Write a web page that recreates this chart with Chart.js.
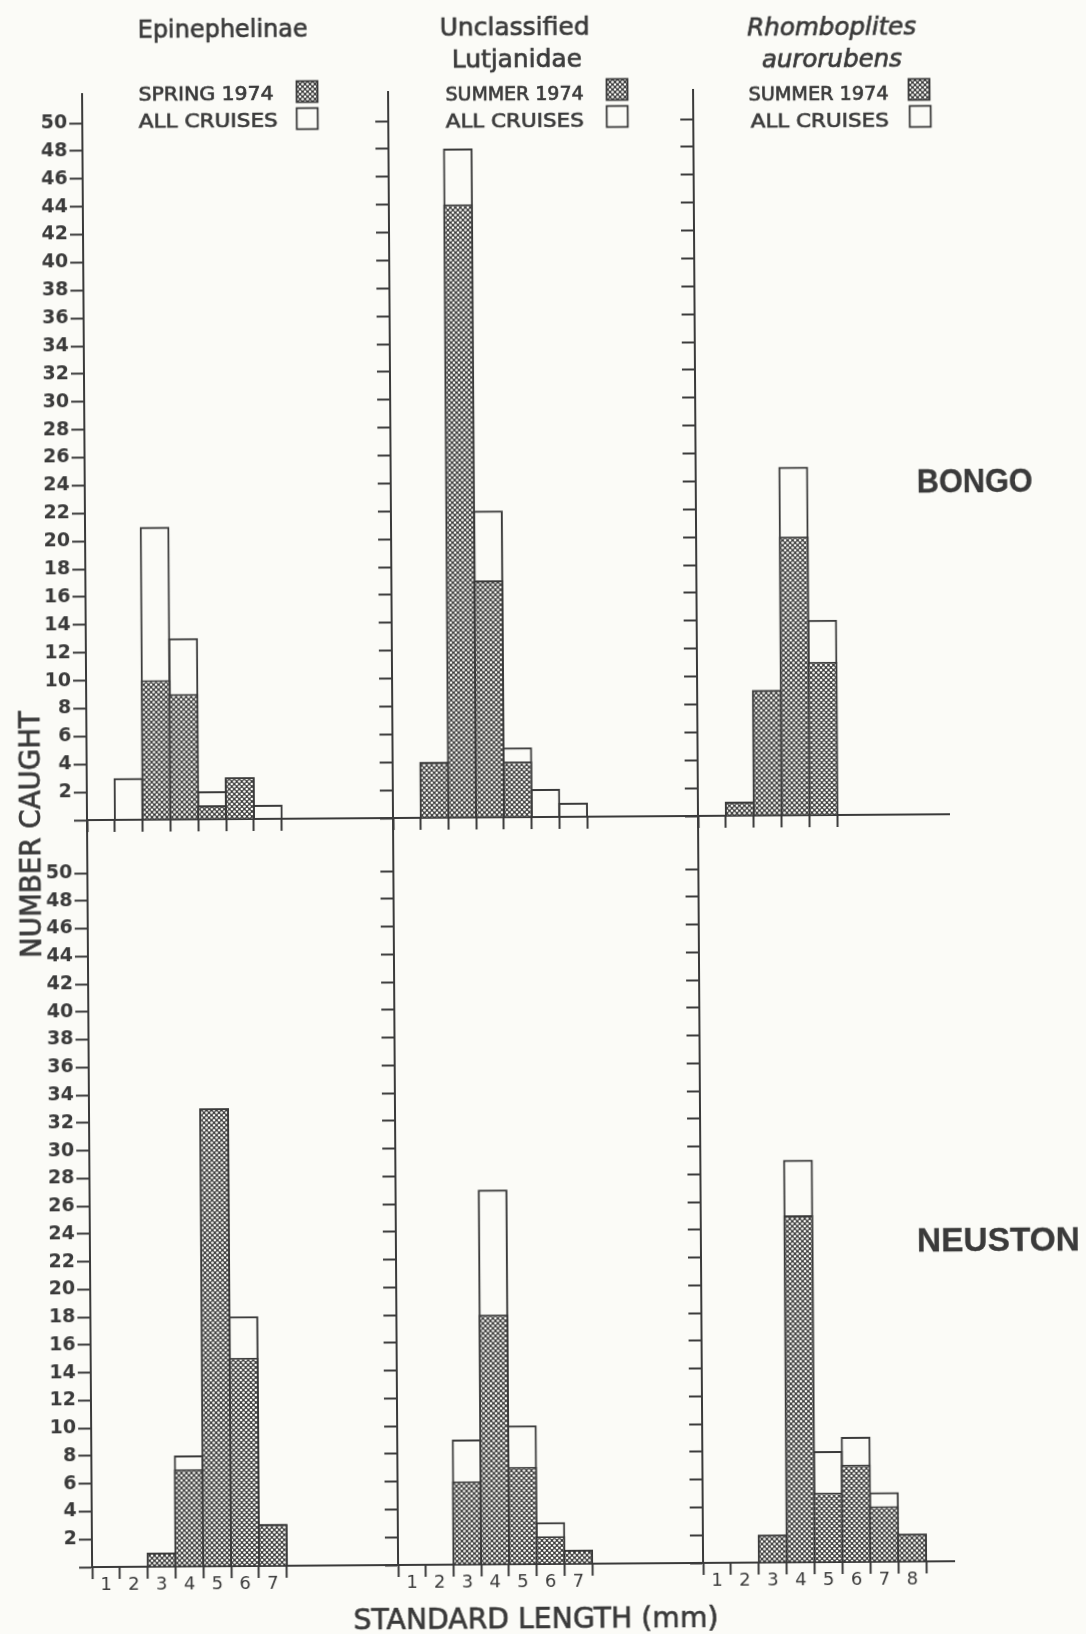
<!DOCTYPE html>
<html>
<head>
<meta charset="utf-8">
<script src="https://cdn.jsdelivr.net/npm/chart.js@4/dist/chart.umd.min.js"></script>
<style>
  html, body { margin: 0; padding: 0; background: #fbfbf7; overflow: hidden; }
  #fig {
    position: relative; width: 1086px; height: 1634px; background: #fbfbf7;
    transform: rotate(-0.39deg); transform-origin: 543px 817px;
  }
  #fig canvas { position: absolute; }
  #fig svg { position: absolute; left: 0; top: 0; }
</style>
</head>
<body>
<div id="fig"></div>
<script>
// ---- counts per standard-length class (mm) ----
// Bongo nets
const epiBongoLengths = ['1', '2', '3', '4', '5', '6', '7'];
const epiBongoSpring  = [0, 0, 10, 9, 1, 3, 0];
const epiBongoAll     = [0, 3, 21, 13, 2, 3, 1];

const lutBongoLengths = ['1', '2', '3', '4', '5', '6', '7'];
const lutBongoSummer  = [0, 4, 44, 17, 4, 0, 0];
const lutBongoAll     = [0, 4, 48, 22, 5, 2, 1];

const rhoBongoLengths = ['1', '2', '3', '4', '5'];
const rhoBongoSummer  = [0, 1, 9, 20, 11];
const rhoBongoAll     = [0, 1, 9, 25, 14];

// Neuston nets
const epiNeustonLengths = ['1', '2', '3', '4', '5', '6', '7'];
const epiNeustonSpring  = [0, 0, 1, 7, 33, 15, 3];
const epiNeustonAll     = [0, 0, 1, 8, 33, 18, 3];

const lutNeustonLengths = ['1', '2', '3', '4', '5', '6', '7'];
const lutNeustonSummer  = [0, 0, 6, 18, 7, 2, 1];
const lutNeustonAll     = [0, 0, 9, 27, 10, 3, 1];

const rhoNeustonLengths = ['1', '2', '3', '4', '5', '6', '7', '8'];
const rhoNeustonSummer  = [0, 0, 2, 25, 5, 7, 4, 2];
const rhoNeustonAll     = [0, 0, 2, 29, 8, 9, 5, 2];

// y-axis tick values (number caught)
const countTicks = [2, 4, 6, 8, 10, 12, 14, 16, 18, 20, 22, 24, 26, 28, 30,
                    32, 34, 36, 38, 40, 42, 44, 46, 48, 50];

// ---- look ----
const ink = '#3a3a3a';
const paper = '#fbfbf7';
const fig = document.getElementById('fig');

function hatchPattern(ctx) {
  const t = document.createElement('canvas');
  t.width = 10; t.height = 10;
  const g = t.getContext('2d');
  g.fillStyle = ink;
  g.fillRect(0, 0, 10, 10);
  g.fillStyle = paper;
  const dots = [[0,0],[5,0],[10,0],[2.5,2.5],[7.5,2.5],[0,5],[5,5],[10,5],
                [2.5,7.5],[7.5,7.5],[0,10],[5,10],[10,10]];
  for (const [x, y] of dots) {
    g.beginPath(); g.arc(x, y, 1.35, 0, Math.PI * 2); g.fill();
  }
  return ctx.createPattern(t, 'repeat');
}

// geometry of the two rows and three columns
const colAxisX = [87, 393, 698];
const colRight = [393, 698, 949];
const topRow = { baseY: 817, topY: 91, unit: 13.94 };
const botRow = { baseY: 1564, topY: 817, unit: 13.88 };
const binWidth = 27.8;
const lineW = 2;

function makePanel(col, row, lengths, season, all, showX) {
  const axisX = colAxisX[col];
  const areaW = colRight[col] - axisX;
  const areaH = row.baseY - row.topY;
  const yMax = areaH / row.unit;
  const showY = col === 0;
  const yAxisW = showY ? 80 : 16;
  const xAxisH = showX ? 44 : 14;
  const padT = 14, padR = 4;

  const cv = document.createElement('canvas');
  cv.width = yAxisW + areaW + padR;
  cv.height = padT + areaH + xAxisH;
  cv.style.left = (axisX - yAxisW) + 'px';
  cv.style.top = (row.topY - padT) + 'px';
  fig.appendChild(cv);
  const ctx = cv.getContext('2d');

  const nCat = Math.round(areaW / binWidth);
  const cats = lengths.concat(Array(Math.max(0, nCat - lengths.length)).fill(''));
  const nEdges = lengths.length;
  const overlap = (areaW / nCat + lineW) / (areaW / nCat);

  const barBase = {
    borderColor: ink,
    borderWidth: lineW,
    borderSkipped: 'start',
    barPercentage: overlap,
    categoryPercentage: 1,
    grouped: false
  };

  new Chart(ctx, {
    type: 'bar',
    data: {
      labels: cats,
      datasets: [
        Object.assign({ data: season.map(v => v || null), backgroundColor: hatchPattern(ctx), order: 1 }, barBase),
        Object.assign({ data: all.map(v => v || null), backgroundColor: 'rgba(0,0,0,0)', order: 2 }, barBase)
      ]
    },
    options: {
      responsive: false,
      animation: false,
      devicePixelRatio: 1,
      layout: { padding: { top: padT, right: padR, left: 0, bottom: 0 }, autoPadding: false },
      plugins: { legend: { display: false }, tooltip: { enabled: false } },
      scales: {
        x: {
          type: 'category',
          offset: true,
          afterFit: s => { s.height = xAxisH; },
          border: { display: true, color: ink, width: lineW },
          grid: {
            offset: true,
            drawOnChartArea: false,
            drawTicks: true,
            tickLength: 12,
            tickWidth: lineW,
            tickColor: c => (c.index !== undefined && c.index <= nEdges) ? ink : 'rgba(0,0,0,0)'
          },
          ticks: {
            display: showX,
            autoSkip: false,
            maxRotation: 0,
            padding: -4,
            color: ink,
            font: { family: 'DejaVu Sans', size: 18 }
          }
        },
        y: {
          min: 0,
          max: yMax,
          afterBuildTicks: s => { s.ticks = [0].concat(countTicks).map(v => ({ value: v })); },
          afterFit: s => { s.width = yAxisW; },
          border: { display: true, color: ink, width: lineW },
          grid: {
            drawOnChartArea: false,
            drawTicks: true,
            tickLength: 13,
            tickWidth: lineW,
            tickColor: ink
          },
          ticks: {
            display: showY,
            padding: 2,
            color: ink,
            font: { family: 'DejaVu Sans', size: 19, weight: 'bold' },
            callback: v => (v === 0 ? '' : String(v))
          }
        }
      }
    }
  });
}

makePanel(0, topRow, epiBongoLengths, epiBongoSpring, epiBongoAll, false);
makePanel(1, topRow, lutBongoLengths, lutBongoSummer, lutBongoAll, false);
makePanel(2, topRow, rhoBongoLengths, rhoBongoSummer, rhoBongoAll, false);
makePanel(0, botRow, epiNeustonLengths, epiNeustonSpring, epiNeustonAll, true);
makePanel(1, botRow, lutNeustonLengths, lutNeustonSummer, lutNeustonAll, true);
makePanel(2, botRow, rhoNeustonLengths, rhoNeustonSummer, rhoNeustonAll, true);

// ---- titles, keys and axis captions ----
const NS = 'http://www.w3.org/2000/svg';
const svg = document.createElementNS(NS, 'svg');
svg.setAttribute('width', 1086);
svg.setAttribute('height', 1634);
fig.appendChild(svg);

const defs = document.createElementNS(NS, 'defs');
defs.innerHTML =
  '<pattern id="cross" width="5" height="5" patternUnits="userSpaceOnUse">' +
  '<rect width="5" height="5" fill="' + ink + '"/>' +
  '<circle cx="0" cy="0" r="1.35" fill="' + paper + '"/><circle cx="5" cy="0" r="1.35" fill="' + paper + '"/>' +
  '<circle cx="0" cy="5" r="1.35" fill="' + paper + '"/><circle cx="5" cy="5" r="1.35" fill="' + paper + '"/>' +
  '<circle cx="2.5" cy="2.5" r="1.35" fill="' + paper + '"/></pattern>';
svg.appendChild(defs);

function text(str, x, y, size, opts = {}) {
  const t = document.createElementNS(NS, 'text');
  t.textContent = str;
  t.setAttribute('x', x);
  t.setAttribute('y', y);
  t.setAttribute('font-family', opts.family || 'DejaVu Sans');
  t.setAttribute('font-size', size);
  t.setAttribute('fill', ink);
  t.setAttribute('stroke', ink);
  t.setAttribute('stroke-width', opts.stroke !== undefined ? opts.stroke : 0.7);
  if (opts.anchor) t.setAttribute('text-anchor', opts.anchor);
  if (opts.italic) t.setAttribute('font-style', 'italic');
  if (opts.bold) t.setAttribute('font-weight', 'bold');
  if (opts.len) { t.setAttribute('textLength', opts.len); t.setAttribute('lengthAdjust', 'spacingAndGlyphs'); }
  if (opts.transform) t.setAttribute('transform', opts.transform);
  svg.appendChild(t);
  return t;
}

function box(x, y, w, h, hatched) {
  const r = document.createElementNS(NS, 'rect');
  r.setAttribute('x', x); r.setAttribute('y', y);
  r.setAttribute('width', w); r.setAttribute('height', h);
  r.setAttribute('fill', hatched ? 'url(#cross)' : 'none');
  r.setAttribute('stroke', ink);
  r.setAttribute('stroke-width', 1.8);
  svg.appendChild(r);
}

// column headings
text('Epinephelinae', 228, 35, 24, { anchor: 'middle', len: 170 });
text('Unclassified', 520, 35, 24, { anchor: 'middle', len: 150 });
text('Lutjanidae', 522, 67, 24, { anchor: 'middle', len: 130 });
text('Rhomboplites', 837, 37, 24, { anchor: 'middle', italic: true, len: 169 });
text('aurorubens', 837, 69, 24, { anchor: 'middle', italic: true, len: 140 });

// keys
text('SPRING 1974', 143.5, 97.5, 20, { len: 135 });
text('ALL CRUISES', 143.5, 124.5, 20, { len: 139 });
box(301.5, 79.5, 21, 21, true);
box(301.5, 106.5, 21, 21, false);

text('SUMMER 1974', 450.5, 99.5, 20, { len: 138 });
text('ALL CRUISES', 450.5, 126.5, 20, { len: 138 });
box(611.5, 79.5, 21, 21, true);
box(611.5, 106.5, 21, 21, false);

text('SUMMER 1974', 753.5, 101.5, 20, { len: 140 });
text('ALL CRUISES', 755.5, 128.5, 20, { len: 138 });
box(913.5, 81.5, 21, 21, true);
box(914.5, 108.5, 21, 21, false);

// gear labels
text('BONGO', 919, 494.5, 34, { family: 'Liberation Sans', bold: true, len: 116, stroke: 0.3 });
text('NEUSTON', 914, 1253.5, 34, { family: 'Liberation Sans', bold: true, len: 163, stroke: 0.3 });

// axis captions
text('NUMBER  CAUGHT', 0, 0, 28, { anchor: 'middle', len: 247, transform: 'translate(40 831) rotate(-90)' });
text('STANDARD LENGTH  (mm)', 530.5, 1628, 28, { anchor: 'middle', len: 365 });
</script>
</body>
</html>
